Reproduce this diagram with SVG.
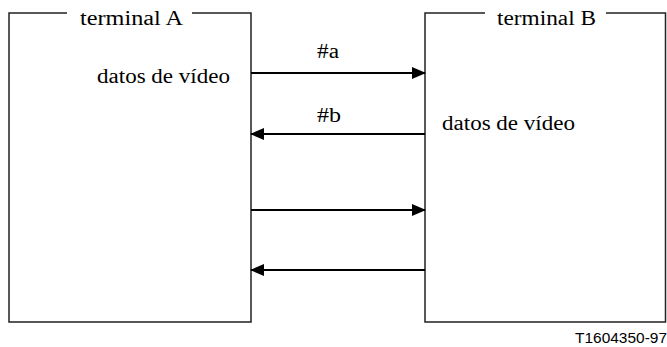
<svg xmlns="http://www.w3.org/2000/svg" width="667" height="347" viewBox="0 0 667 347">
<style>
.box{fill:none;stroke:#222;stroke-width:1.5}
.t{font-family:"Liberation Serif","Times New Roman",serif;font-size:20px;fill:#000}
.c{stroke:#000;stroke-width:2;fill:none}
.s{font-family:"Liberation Sans",Arial,sans-serif;font-size:14px;fill:#000}
</style>
<defs>
<marker id="ah" markerWidth="14" markerHeight="12" refX="13" refY="6" orient="auto" markerUnits="userSpaceOnUse">
<path d="M0,0 L14,6 L0,12 Z" fill="#000"/>
</marker>
</defs>
<g id="terminalA">
<path class="box" d="M67,13 L9,13 L9,322 L251,322 L251,13 L192,13"/>
<text class="t" x="80" y="25" textLength="103" lengthAdjust="spacingAndGlyphs">terminal A</text>
<text class="t" x="97" y="83" textLength="133" lengthAdjust="spacingAndGlyphs">datos de vídeo</text>
</g>
<g id="terminalB">
<path class="box" d="M485,13 L425,13 L425,322 L665.5,322 L665.5,13 L606,13"/>
<text class="t" x="497" y="25" textLength="99" lengthAdjust="spacingAndGlyphs">terminal B</text>
<text class="t" x="442" y="130" textLength="133" lengthAdjust="spacingAndGlyphs">datos de vídeo</text>
</g>
<g id="connectors">
<line class="c" x1="251" y1="73" x2="425" y2="73" marker-end="url(#ah)"/>
<line class="c" x1="425" y1="134" x2="251" y2="134" marker-end="url(#ah)"/>
<line class="c" x1="251" y1="210" x2="425" y2="210" marker-end="url(#ah)"/>
<line class="c" x1="425" y1="270" x2="251" y2="270" marker-end="url(#ah)"/>
<text class="t" x="317" y="58" textLength="22" lengthAdjust="spacingAndGlyphs">#a</text>
<text class="t" x="317" y="122" textLength="24" lengthAdjust="spacingAndGlyphs">#b</text>
</g>
<text class="s" x="575" y="343" textLength="92" lengthAdjust="spacingAndGlyphs">T1604350-97</text>
</svg>
